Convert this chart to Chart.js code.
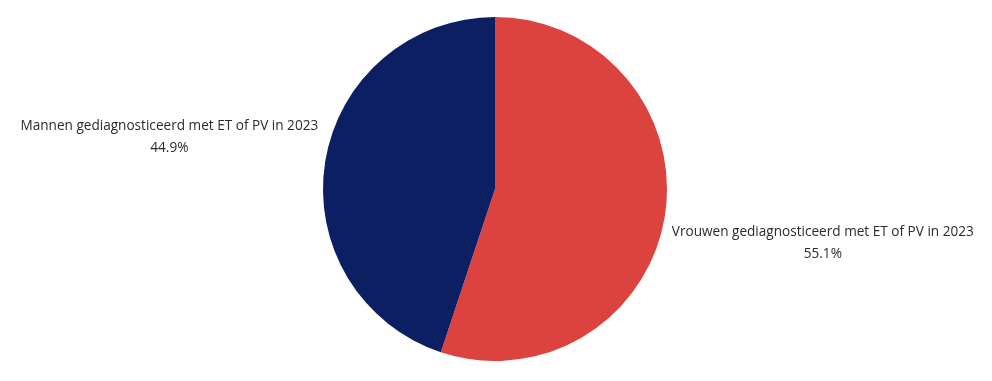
<!DOCTYPE html>
<html><head><meta charset="utf-8">
<script src="https://cdn.jsdelivr.net/npm/chart.js@4"></script>
<style>html,body{margin:0;padding:0;background:#fff}#wrap{width:992px;height:381px}</style>
</head><body><div id="wrap"><canvas id="c"></canvas></div>
<script>
const categories = ["Vrouwen gediagnosticeerd met ET of PV in 2023", "Mannen gediagnosticeerd met ET of PV in 2023"];
const values = [55.1, 44.9];
const colors = ["#DC423E", "#0C1F62"];

const labelPlugin = {
  id: 'outLabels',
  afterDraw(chart) {
    const ctx = chart.ctx;
    const meta = chart.getDatasetMeta(0);
    ctx.save();
    ctx.font = '13.6px "Open Sans"';
    ctx.fillStyle = '#2b2b2b';
    ctx.textBaseline = 'middle';
    ctx.textAlign = 'center';
    const lh = 22.5;
    meta.data.forEach((arc, i) => {
      const p = arc.getProps(['x','y','startAngle','endAngle','outerRadius'], true);
      const mid = (p.startAngle + p.endAngle) / 2;
      const ax = p.x + Math.cos(mid) * p.outerRadius;
      const ay = p.y + Math.sin(mid) * p.outerRadius;
      const lines = [categories[i], values[i].toFixed(1) + '%'];
      const w = Math.max(...lines.map(l => ctx.measureText(l).width));
      let cx, y0;
      if (Math.cos(mid) >= 0) {
        cx = ax + 7 + w / 2;
        y0 = ay + 15.5;
      } else {
        cx = ax - 7 - w / 2;
        y0 = ay - 13 - lh;
      }
      lines.forEach((l, k) => ctx.fillText(l, cx, y0 + k * lh));
    });
    ctx.restore();
  }
};

new Chart(document.getElementById('c'), {
  type: 'pie',
  data: { labels: categories, datasets: [{ data: values, backgroundColor: colors, borderWidth: 0 }] },
  options: {
    responsive: true, maintainAspectRatio: false, animation: false,
    layout: { padding: { top: 17, bottom: 20, left: 0, right: 2 } },
    plugins: { legend: { display: false }, tooltip: { enabled: false } }
  },
  plugins: [labelPlugin]
});
</script></body></html>
